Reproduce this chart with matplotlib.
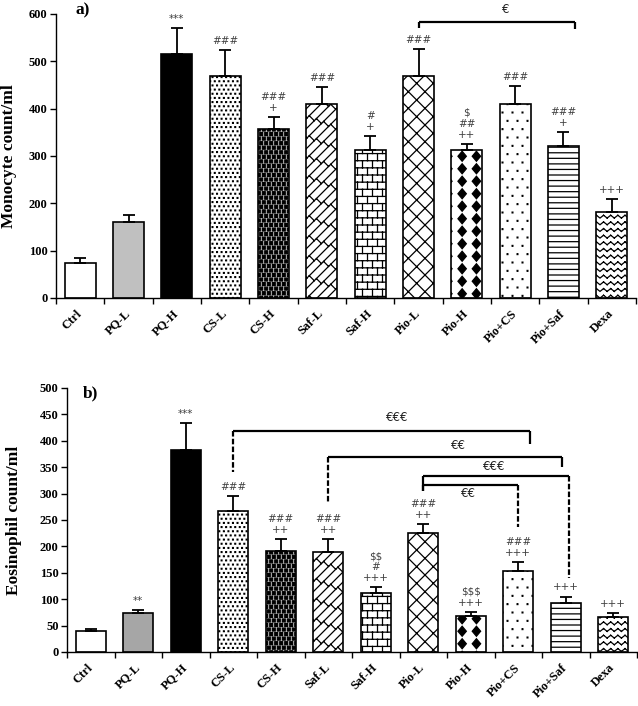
import warnings
import numpy as np
import matplotlib
matplotlib.use('Agg')
import matplotlib.pyplot as plt
import matplotlib.hatch as mhatch
from matplotlib.path import Path

warnings.filterwarnings('ignore')

groups = ['Ctrl', 'PQ-L', 'PQ-H', 'CS-L', 'CS-H', 'Saf-L', 'Saf-H',
          'Pio-L', 'Pio-H', 'Pio+CS', 'Pio+Saf', 'Dexa']

# a) monocytes
mono = [73, 161, 515, 469, 357, 409, 312, 469, 312, 409, 321, 182]
mono_err = [12, 14, 56, 54, 25, 36, 30, 57, 14, 39, 30, 27]
mono_sig = ['', '', '***', '###', '###\n+', '###', '#\n+', '###',
            '$\n##\n++', '###', '###\n+', '+++']

# b) eosinophils
eos = [40, 73, 383, 267, 191, 190, 111, 225, 69, 154, 92, 66]
eos_err = [3, 7, 51, 29, 23, 24, 12, 18, 7, 16, 13, 7]
eos_sig = ['', '**', '***', '###', '###\n++', '###\n++', '$$\n#\n+++',
           '###\n++', '$$$\n+++', '###\n+++', '+++', '+++']

# comparison brackets: left x, right x, level, leg ends, label, label x
br_a_x = [(7.0, 10.23)]
br_a_y = [(583, 570, 569)]
br_a_lab = [('€', 8.8, 609)]

br_b_x = [(3.0, 9.25), (5.0, 9.93), (7.0, 10.07), (7.0, 9.0)]
br_b_y = [(418, 340, 393), (370, 285, 351), (334, 304, 140), (317, 304, 237)]
br_b_lab = [('€€€', 6.45, 444), ('€€', 7.75, 391), ('€€€', 8.5, 351), ('€€', 7.95, 300)]


# ---- custom fill patterns (zigzag, bricks, diamonds, squares) ----
class Custom:
    def __init__(self, hatch, char, verts, codes):
        on = char in hatch
        self.v = verts if on else np.empty((0, 2))
        self.c = codes if on else np.empty(0, dtype=Path.code_type)
        self.num_vertices = len(self.v)

    def set_vertices_and_codes(self, vertices, codes):
        vertices[:] = self.v
        codes[:] = self.c


def seg_path(segs):
    v = np.asarray(segs, float).reshape(-1, 2)
    c = np.tile([Path.MOVETO, Path.LINETO], len(v) // 2).astype(Path.code_type)
    return v, c


def shape_path(centres, outline):
    outline = np.asarray(outline, float)
    v = np.concatenate([outline + c for c in centres])
    one = [Path.MOVETO] + [Path.LINETO] * (len(outline) - 2) + [Path.CLOSEPOLY]
    c = np.tile(one, len(centres)).astype(Path.code_type)
    return v, c


def square(s):
    return [(-s, -s), (s, -s), (s, s), (-s, s), (-s, -s)]


def stagger(nx, ny, dx=0.25):
    return [((i + 0.5 * (j % 2) + dx) / nx, (j + 0.5) / ny)
            for i in range(-1, nx + 1) for j in range(ny)]


zz = []
for r in range(15):
    y0 = (r + 0.5) / 15
    xs = np.linspace(0, 1, 29)
    ys = y0 + np.where(np.arange(29) % 2 == 0, -0.014, 0.014)
    for i in range(28):
        zz += [(xs[i], ys[i]), (xs[i + 1], ys[i + 1])]

hb = []
for r in range(-1, 15):
    y0, y1 = (r + 0.5) / 14, (r + 1.5) / 14
    hb += [(-0.1, y0), (1.1, y0)]
    for j in range(-1, 11):
        x = (j + 0.5 * (r % 2) + 0.25) / 10
        hb += [(x, y0), (x, y1)]

dk = []
n, m = 10, 7
for k in range(-n, n + 1):
    c = (k + 0.5) / n
    dk += [(-0.5, -0.5 + c), (1.5, 1.5 + c)]
    for j in range(-m, 2 * m):
        t = (j + 0.5 * (k % 2)) / m
        dk += [(t, t + c), (t - 0.5 / n, t + c + 0.5 / n)]

dia_c = [((i + 0.35) / 7, (j + 0.5) / 8) for i in range(7) for j in range(8)]
dia_o = [(0, -0.05), (0.042, 0), (0, 0.05), (-0.042, 0), (0, -0.05)]

patterns = {'z': seg_path(zz), 'b': seg_path(hb), 'k': seg_path(dk),
            'd': shape_path(dia_c, dia_o),
            'q': shape_path(stagger(20, 22), square(0.015)),
            's': shape_path(stagger(22, 24), square(0.004)),
            'p': shape_path(stagger(10, 12), square(0.004))}
for ch, (v, c) in patterns.items():
    mhatch._hatch_types.append(lambda h, d, ch=ch, v=v, c=c: Custom(h, ch, v, c))

plt.rcParams['font.family'] = 'Liberation Serif'
plt.rcParams['font.weight'] = 'bold'
plt.rcParams['axes.labelweight'] = 'bold'
plt.rcParams['hatch.linewidth'] = 0.9

hatches = [None, None, None, 's', 'q', 'k', 'b', 'xx', 'd', 'p', '---', 'z']


def panel(ax, vals, errs, sig, grey, ylabel, ymax, step, tag, tagpos, labx):
    x = np.arange(len(groups))
    fills = ['white', grey, 'black'] + ['white'] * 9
    bars = ax.bar(x, vals, width=0.64, color=fills, edgecolor='black', linewidth=1.2, zorder=2)
    for b, h in zip(bars, hatches):
        if h:
            b.set_hatch(h)
    ax.errorbar(x, vals, yerr=[np.zeros(len(x)), errs], fmt='none', ecolor='black',
                elinewidth=1.3, capsize=4, capthick=1.3, zorder=3)
    for i in range(len(x)):
        if sig[i]:
            ax.annotate(sig[i], (x[i], vals[i] + errs[i]), xytext=(0, 3),
                        textcoords='offset points', ha='center', va='bottom',
                        fontsize=7.5, family='DejaVu Sans', weight='normal',
                        color='#404040', linespacing=1.1, parse_math=False)
    ax.set_xlim(-0.5, 11.5)
    ax.set_ylim(0, ymax)
    ax.set_yticks(np.arange(0, ymax + 1, step))
    ax.set_xticks(x)
    ax.set_xticklabels(groups, rotation=45, ha='right', va='center', rotation_mode='anchor')
    ax.set_xticks(np.arange(-0.5, 12, 1), minor=True)
    ax.tick_params(axis='x', which='major', length=0, pad=10, labelsize=9)
    ax.tick_params(axis='x', which='minor', length=4, width=1, direction='out')
    ax.tick_params(axis='y', length=4, width=1, direction='out', labelsize=9, pad=2)
    for sp in ['top', 'right']:
        ax.spines[sp].set_visible(False)
    for sp in ['left', 'bottom']:
        ax.spines[sp].set_linewidth(1)
    ax.set_ylabel(ylabel, fontsize=12.5)
    ax.yaxis.set_label_coords(labx, 0.5)
    ax.text(tagpos[0], tagpos[1], tag, transform=ax.transAxes, fontsize=12.5,
            va='baseline', ha='left')


def brackets(ax, xs, ys, labs):
    for (x1, x2), (lev, e1, e2), (lab, lx, ly) in zip(xs, ys, labs):
        ax.plot([x1, x2], [lev, lev], color='black', lw=1.6, clip_on=False,
                solid_capstyle='butt', zorder=4)
        for xx, end in [(x1, e1), (x2, e2)]:
            ls = (0, (2.5, 1)) if lev - end > 40 else '-'
            ax.plot([xx, xx], [lev, end], color='black', lw=1.6, ls=ls,
                    clip_on=False, solid_capstyle='butt', zorder=4)
        ax.text(lx, ly, lab, ha='center', va='center', fontsize=8.5,
                family='DejaVu Sans', weight='normal', color='#202020',
                clip_on=False)


fig = plt.figure(figsize=(6.38, 7.06), dpi=100)
ax1 = fig.add_axes([56 / 638, 1 - 298 / 706, 580 / 638, 284 / 706])
ax2 = fig.add_axes([67 / 638, 1 - 652 / 706, 570 / 638, 264 / 706])

panel(ax1, mono, mono_err, mono_sig, '#c0c0c0', 'Monocyte count/ml', 600, 100,
      'a)', (0.034, 1.0), -0.067)
brackets(ax1, br_a_x, br_a_y, br_a_lab)

panel(ax2, eos, eos_err, eos_sig, '#a6a6a6', 'Eosinophil count/ml', 500, 50,
      'b)', (0.028, 0.966), -0.079)
brackets(ax2, br_b_x, br_b_y, br_b_lab)

fig.savefig('out.png', dpi=100)
